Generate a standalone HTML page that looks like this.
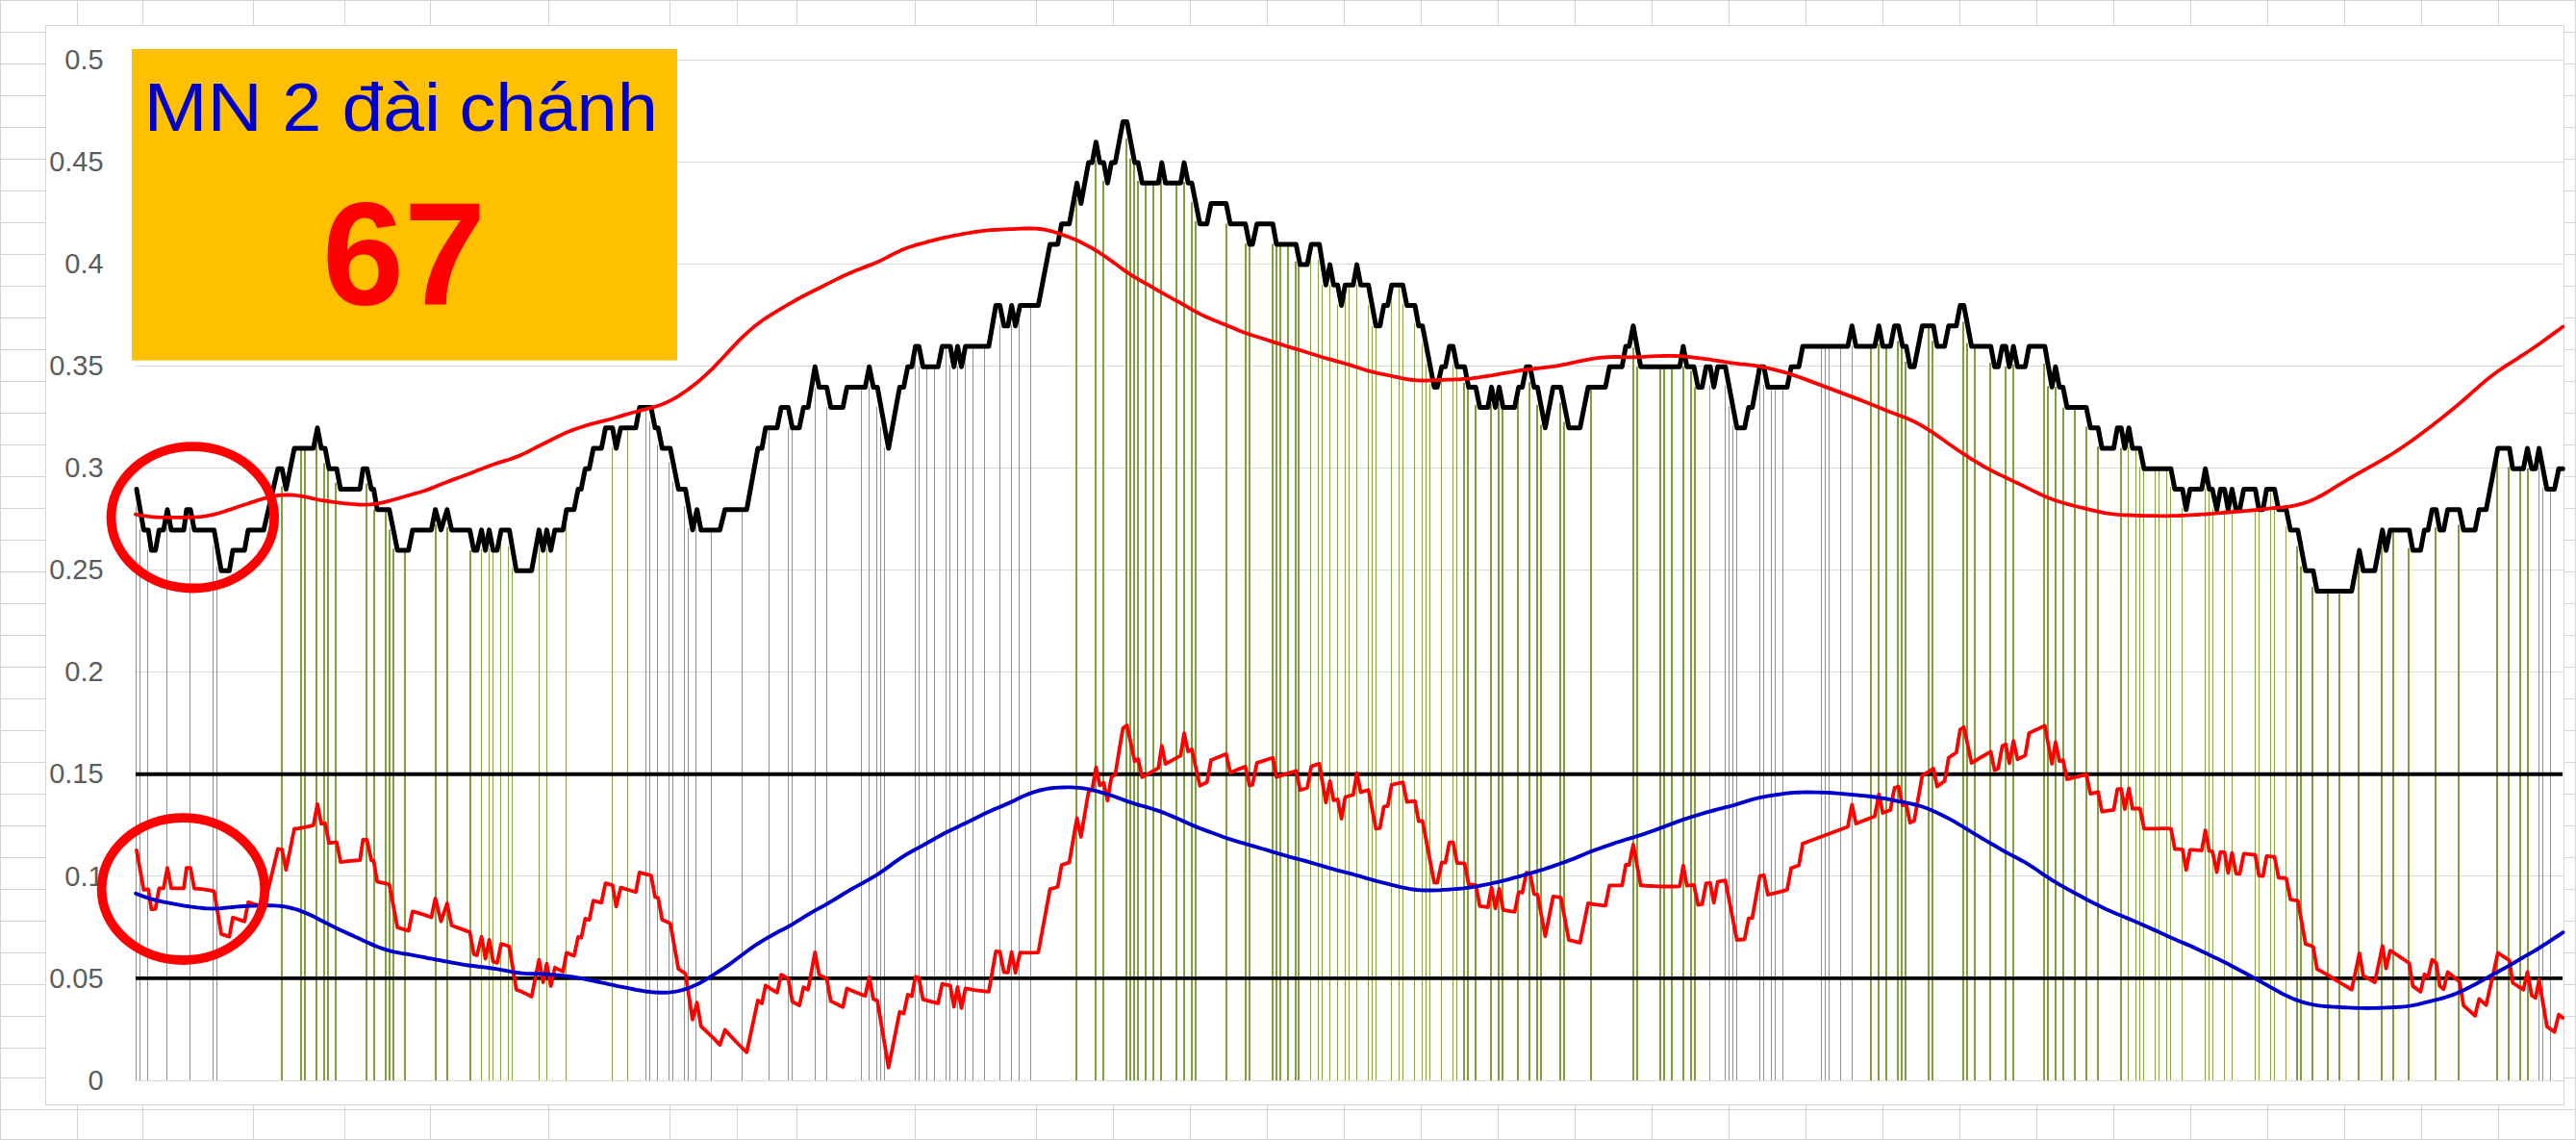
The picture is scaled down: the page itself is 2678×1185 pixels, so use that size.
<!DOCTYPE html>
<html lang="vi"><head><meta charset="utf-8"><title>MN 2 đài chánh 67</title>
<style>html,body{margin:0;padding:0;background:#fff}body{width:2678px;height:1185px;overflow:hidden}svg{display:block}text{font-family:"Liberation Sans",sans-serif}</style></head><body>
<svg width="2678" height="1185" viewBox="0 0 2678 1185">
<rect width="2678" height="1185" fill="#fff"/>
<g stroke="#d4d4d4" stroke-width="1" shape-rendering="crispEdges"><line x1="0.5" y1="0" x2="0.5" y2="1185"/><line x1="80.5" y1="0" x2="80.5" y2="1185"/><line x1="148.5" y1="0" x2="148.5" y2="1185"/><line x1="263.5" y1="0" x2="263.5" y2="1185"/><line x1="358.5" y1="0" x2="358.5" y2="1185"/><line x1="447.5" y1="0" x2="447.5" y2="1185"/><line x1="570.5" y1="0" x2="570.5" y2="1185"/><line x1="696.5" y1="0" x2="696.5" y2="1185"/><line x1="766.5" y1="0" x2="766.5" y2="1185"/><line x1="828.5" y1="0" x2="828.5" y2="1185"/><line x1="951.5" y1="0" x2="951.5" y2="1185"/><line x1="1077.5" y1="0" x2="1077.5" y2="1185"/><line x1="1157.5" y1="0" x2="1157.5" y2="1185"/><line x1="1237.5" y1="0" x2="1237.5" y2="1185"/><line x1="1317.5" y1="0" x2="1317.5" y2="1185"/><line x1="1397.5" y1="0" x2="1397.5" y2="1185"/><line x1="1477.5" y1="0" x2="1477.5" y2="1185"/><line x1="1557.5" y1="0" x2="1557.5" y2="1185"/><line x1="1637.5" y1="0" x2="1637.5" y2="1185"/><line x1="1717.5" y1="0" x2="1717.5" y2="1185"/><line x1="1797.5" y1="0" x2="1797.5" y2="1185"/><line x1="1877.5" y1="0" x2="1877.5" y2="1185"/><line x1="1957.5" y1="0" x2="1957.5" y2="1185"/><line x1="2037.5" y1="0" x2="2037.5" y2="1185"/><line x1="2117.5" y1="0" x2="2117.5" y2="1185"/><line x1="2197.5" y1="0" x2="2197.5" y2="1185"/><line x1="2277.5" y1="0" x2="2277.5" y2="1185"/><line x1="2357.5" y1="0" x2="2357.5" y2="1185"/><line x1="2437.5" y1="0" x2="2437.5" y2="1185"/><line x1="2517.5" y1="0" x2="2517.5" y2="1185"/><line x1="2597.5" y1="0" x2="2597.5" y2="1185"/><line x1="2677.5" y1="0" x2="2677.5" y2="1185"/><line x1="0" y1="0.5" x2="2678" y2="0.5"/><line x1="0" y1="33.5" x2="2678" y2="33.5"/><line x1="0" y1="66.5" x2="2678" y2="66.5"/><line x1="0" y1="99.5" x2="2678" y2="99.5"/><line x1="0" y1="132.5" x2="2678" y2="132.5"/><line x1="0" y1="165.5" x2="2678" y2="165.5"/><line x1="0" y1="198.5" x2="2678" y2="198.5"/><line x1="0" y1="231.5" x2="2678" y2="231.5"/><line x1="0" y1="264.5" x2="2678" y2="264.5"/><line x1="0" y1="297.5" x2="2678" y2="297.5"/><line x1="0" y1="330.5" x2="2678" y2="330.5"/><line x1="0" y1="363.5" x2="2678" y2="363.5"/><line x1="0" y1="396.5" x2="2678" y2="396.5"/><line x1="0" y1="429.5" x2="2678" y2="429.5"/><line x1="0" y1="462.5" x2="2678" y2="462.5"/><line x1="0" y1="495.5" x2="2678" y2="495.5"/><line x1="0" y1="528.5" x2="2678" y2="528.5"/><line x1="0" y1="561.5" x2="2678" y2="561.5"/><line x1="0" y1="594.5" x2="2678" y2="594.5"/><line x1="0" y1="627.5" x2="2678" y2="627.5"/><line x1="0" y1="660.5" x2="2678" y2="660.5"/><line x1="0" y1="693.5" x2="2678" y2="693.5"/><line x1="0" y1="726.5" x2="2678" y2="726.5"/><line x1="0" y1="759.5" x2="2678" y2="759.5"/><line x1="0" y1="792.5" x2="2678" y2="792.5"/><line x1="0" y1="825.5" x2="2678" y2="825.5"/><line x1="0" y1="858.5" x2="2678" y2="858.5"/><line x1="0" y1="891.5" x2="2678" y2="891.5"/><line x1="0" y1="924.5" x2="2678" y2="924.5"/><line x1="0" y1="957.5" x2="2678" y2="957.5"/><line x1="0" y1="990.5" x2="2678" y2="990.5"/><line x1="0" y1="1023.5" x2="2678" y2="1023.5"/><line x1="0" y1="1056.5" x2="2678" y2="1056.5"/><line x1="0" y1="1089.5" x2="2678" y2="1089.5"/><line x1="0" y1="1120.5" x2="2678" y2="1120.5"/><line x1="0" y1="1153.5" x2="2678" y2="1153.5"/><line x1="0" y1="1184.5" x2="2678" y2="1184.5"/></g>
<rect x="47.5" y="26.5" width="2618" height="1122" fill="#fff" stroke="#d6d6d6" stroke-width="1" shape-rendering="crispEdges"/>
<g stroke="#dadada" stroke-width="1" shape-rendering="crispEdges"><line x1="140" y1="1123.5" x2="2665" y2="1123.5"/><line x1="140" y1="1016.5" x2="2665" y2="1016.5"/><line x1="140" y1="910.5" x2="2665" y2="910.5"/><line x1="140" y1="804.5" x2="2665" y2="804.5"/><line x1="140" y1="698.5" x2="2665" y2="698.5"/><line x1="140" y1="592.5" x2="2665" y2="592.5"/><line x1="140" y1="486.5" x2="2665" y2="486.5"/><line x1="140" y1="380.5" x2="2665" y2="380.5"/><line x1="140" y1="274.5" x2="2665" y2="274.5"/><line x1="140" y1="168.5" x2="2665" y2="168.5"/><line x1="140" y1="62.5" x2="2665" y2="62.5"/></g>
<g fill="#829f3e"><rect x="141" y="526.3" width="1" height="596.7" fill="#88a648"/><rect x="145" y="550.5" width="1" height="572.5" fill="#88a648"/><rect x="153" y="571.6" width="1" height="551.4" fill="#88a648"/><rect x="173" y="547.7" width="1" height="575.3" fill="#88a648"/><rect x="197" y="547.2" width="1" height="575.8" fill="#88a648"/><rect x="221" y="566.8" width="1" height="556.2" fill="#88a648"/><rect x="225" y="588.7" width="1" height="534.3" fill="#88a648"/><rect x="292" y="505.6" width="2" height="617.4"/><rect x="312" y="466.0" width="2" height="657.0"/><rect x="316" y="466.0" width="2" height="657.0"/><rect x="328" y="459.7" width="2" height="663.3"/><rect x="336" y="481.4" width="2" height="641.6"/><rect x="340" y="487.2" width="2" height="635.8"/><rect x="348" y="501.6" width="2" height="621.4"/><rect x="380" y="502.7" width="2" height="620.3"/><rect x="388" y="529.7" width="2" height="593.3"/><rect x="400" y="530.5" width="2" height="592.5"/><rect x="404" y="550.6" width="2" height="572.4"/><rect x="408" y="570.3" width="2" height="552.7"/><rect x="420" y="572.1" width="2" height="550.9"/><rect x="452" y="545.0" width="2" height="578.0"/><rect x="464" y="547.8" width="2" height="575.2"/><rect x="488" y="572.1" width="2" height="550.9"/><rect x="500" y="570.9" width="1" height="552.1" fill="#88a648"/><rect x="508" y="570.3" width="1" height="552.7" fill="#88a648"/><rect x="512" y="572.1" width="1" height="550.9" fill="#88a648"/><rect x="520" y="550.9" width="1" height="572.1" fill="#88a648"/><rect x="528" y="567.7" width="1" height="555.3" fill="#88a648"/><rect x="532" y="590.2" width="1" height="532.8" fill="#88a648"/><rect x="560" y="570.4" width="1" height="552.6" fill="#88a648"/><rect x="568" y="570.4" width="1" height="552.6" fill="#88a648"/><rect x="588" y="529.7" width="1" height="593.3" fill="#88a648"/><rect x="636" y="464.7" width="1" height="658.3" fill="#88a648"/><rect x="652" y="444.8" width="1" height="678.2" fill="#88a648"/><rect x="671" y="423.6" width="1" height="699.4" fill="#88a648"/><rect x="675" y="437.5" width="1" height="685.5" fill="#88a648"/><rect x="683" y="462.4" width="1" height="660.6" fill="#88a648"/><rect x="695" y="480.4" width="1" height="642.6" fill="#88a648"/><rect x="699" y="500.6" width="1" height="622.4" fill="#88a648"/><rect x="711" y="526.1" width="1" height="596.9" fill="#88a648"/><rect x="715" y="549.1" width="1" height="573.9" fill="#88a648"/><rect x="723" y="545.6" width="1" height="577.4" fill="#88a648"/><rect x="739" y="550.9" width="1" height="572.1" fill="#88a648"/><rect x="771" y="529.7" width="1" height="593.3" fill="#88a648"/><rect x="799" y="444.8" width="1" height="678.2" fill="#88a648"/><rect x="819" y="444.8" width="1" height="678.2" fill="#88a648"/><rect x="823" y="444.8" width="1" height="678.2" fill="#88a648"/><rect x="847" y="402.4" width="1" height="720.6" fill="#88a648"/><rect x="859" y="423.2" width="1" height="699.8" fill="#88a648"/><rect x="895" y="401.2" width="1" height="721.8" fill="#88a648"/><rect x="903" y="401.9" width="1" height="721.1" fill="#88a648"/><rect x="911" y="422.7" width="1" height="700.3" fill="#88a648"/><rect x="915" y="443.6" width="1" height="679.4" fill="#88a648"/><rect x="919" y="465.0" width="1" height="658.0" fill="#88a648"/><rect x="951" y="360.7" width="1" height="762.3" fill="#88a648"/><rect x="955" y="380.8" width="1" height="742.2" fill="#88a648"/><rect x="963" y="381.2" width="1" height="741.8" fill="#88a648"/><rect x="971" y="380.5" width="1" height="742.5" fill="#88a648"/><rect x="983" y="360.0" width="1" height="763.0" fill="#88a648"/><rect x="987" y="379.6" width="1" height="743.4" fill="#88a648"/><rect x="995" y="380.3" width="1" height="742.7" fill="#88a648"/><rect x="1003" y="360.0" width="1" height="763.0" fill="#88a648"/><rect x="1011" y="360.0" width="1" height="763.0" fill="#88a648"/><rect x="1023" y="360.0" width="1" height="763.0" fill="#88a648"/><rect x="1039" y="337.3" width="1" height="785.7" fill="#88a648"/><rect x="1051" y="337.3" width="1" height="785.7" fill="#88a648"/><rect x="1059" y="317.5" width="1" height="805.5" fill="#88a648"/><rect x="1071" y="317.5" width="1" height="805.5" fill="#88a648"/><rect x="1118" y="207.0" width="2" height="916.0"/><rect x="1138" y="166.6" width="2" height="956.4"/><rect x="1146" y="187.8" width="2" height="935.2"/><rect x="1170" y="144.2" width="2" height="978.8"/><rect x="1174" y="164.9" width="2" height="958.1"/><rect x="1178" y="169.1" width="2" height="953.9"/><rect x="1182" y="187.9" width="2" height="935.1"/><rect x="1190" y="190.3" width="2" height="932.7"/><rect x="1198" y="190.3" width="2" height="932.7"/><rect x="1206" y="185.9" width="2" height="937.1"/><rect x="1222" y="190.3" width="2" height="932.7"/><rect x="1230" y="189.0" width="2" height="934.0"/><rect x="1238" y="210.2" width="2" height="912.8"/><rect x="1242" y="229.8" width="2" height="893.2"/><rect x="1274" y="232.7" width="2" height="890.3"/><rect x="1294" y="253.2" width="2" height="869.8"/><rect x="1298" y="250.3" width="2" height="872.7"/><rect x="1322" y="253.6" width="2" height="869.4"/><rect x="1326" y="253.9" width="2" height="869.1"/><rect x="1330" y="253.9" width="2" height="869.1"/><rect x="1338" y="253.9" width="2" height="869.1"/><rect x="1346" y="271.7" width="2" height="851.3"/><rect x="1349" y="275.1" width="2" height="847.9"/><rect x="1362" y="253.9" width="1" height="869.1" fill="#88a648"/><rect x="1370" y="270.2" width="1" height="852.8" fill="#88a648"/><rect x="1374" y="296.2" width="1" height="826.8" fill="#88a648"/><rect x="1382" y="296.2" width="1" height="826.8" fill="#88a648"/><rect x="1390" y="316.3" width="1" height="806.7" fill="#88a648"/><rect x="1398" y="296.3" width="1" height="826.7" fill="#88a648"/><rect x="1402" y="296.3" width="1" height="826.7" fill="#88a648"/><rect x="1410" y="295.6" width="1" height="827.4" fill="#88a648"/><rect x="1422" y="316.9" width="1" height="806.1" fill="#88a648"/><rect x="1426" y="338.8" width="1" height="784.2" fill="#88a648"/><rect x="1430" y="338.8" width="1" height="784.2" fill="#88a648"/><rect x="1446" y="296.3" width="1" height="826.7" fill="#88a648"/><rect x="1454" y="296.3" width="1" height="826.7" fill="#88a648"/><rect x="1458" y="315.9" width="1" height="807.1" fill="#88a648"/><rect x="1470" y="336.3" width="1" height="786.7" fill="#88a648"/><rect x="1478" y="356.8" width="1" height="766.2" fill="#88a648"/><rect x="1482" y="378.2" width="1" height="744.8" fill="#88a648"/><rect x="1486" y="399.0" width="1" height="724.0" fill="#88a648"/><rect x="1498" y="381.2" width="1" height="741.8" fill="#88a648"/><rect x="1510" y="378.5" width="1" height="744.5" fill="#88a648"/><rect x="1514" y="381.2" width="1" height="741.8" fill="#88a648"/><rect x="1521" y="397.7" width="2" height="725.3"/><rect x="1525" y="402.4" width="2" height="720.6"/><rect x="1533" y="421.0" width="2" height="702.0"/><rect x="1549" y="419.7" width="2" height="703.3"/><rect x="1557" y="419.2" width="2" height="703.8"/><rect x="1561" y="423.6" width="2" height="699.4"/><rect x="1577" y="402.4" width="2" height="720.6"/><rect x="1589" y="397.2" width="2" height="725.8"/><rect x="1597" y="420.8" width="2" height="702.2"/><rect x="1601" y="441.5" width="2" height="681.5"/><rect x="1621" y="418.4" width="2" height="704.6"/><rect x="1625" y="438.5" width="2" height="684.5"/><rect x="1653" y="402.4" width="2" height="720.6"/><rect x="1697" y="361.1" width="2" height="761.9"/><rect x="1701" y="381.2" width="2" height="741.8"/><rect x="1725" y="381.2" width="2" height="741.8"/><rect x="1729" y="381.2" width="2" height="741.8"/><rect x="1737" y="381.2" width="2" height="741.8"/><rect x="1749" y="381.2" width="2" height="741.8"/><rect x="1757" y="385.5" width="2" height="737.5"/><rect x="1761" y="402.4" width="2" height="720.6"/><rect x="1777" y="400.3" width="1" height="722.7" fill="#88a648"/><rect x="1793" y="400.4" width="1" height="722.6" fill="#88a648"/><rect x="1797" y="422.1" width="1" height="700.9" fill="#88a648"/><rect x="1801" y="442.3" width="1" height="680.7" fill="#88a648"/><rect x="1805" y="444.8" width="1" height="678.2" fill="#88a648"/><rect x="1829" y="381.2" width="1" height="741.8" fill="#88a648"/><rect x="1833" y="399.9" width="1" height="723.1" fill="#88a648"/><rect x="1841" y="402.4" width="1" height="720.6" fill="#88a648"/><rect x="1845" y="402.4" width="1" height="720.6" fill="#88a648"/><rect x="1853" y="402.4" width="1" height="720.6" fill="#88a648"/><rect x="1893" y="360.0" width="1" height="763.0" fill="#88a648"/><rect x="1897" y="360.0" width="1" height="763.0" fill="#88a648"/><rect x="1901" y="360.0" width="1" height="763.0" fill="#88a648"/><rect x="1913" y="360.0" width="1" height="763.0" fill="#88a648"/><rect x="1925" y="359.1" width="1" height="763.9" fill="#88a648"/><rect x="1944" y="358.7" width="2" height="764.3"/><rect x="1952" y="357.5" width="2" height="765.5"/><rect x="1960" y="360.0" width="2" height="763.0"/><rect x="1972" y="354.5" width="2" height="768.5"/><rect x="1976" y="360.0" width="2" height="763.0"/><rect x="1980" y="376.0" width="2" height="747.0"/><rect x="2004" y="338.8" width="2" height="784.2"/><rect x="2008" y="354.4" width="2" height="768.6"/><rect x="2040" y="334.6" width="2" height="788.4"/><rect x="2044" y="356.4" width="2" height="766.6"/><rect x="2052" y="360.0" width="2" height="763.0"/><rect x="2068" y="377.0" width="2" height="746.0"/><rect x="2084" y="380.9" width="2" height="742.1"/><rect x="2092" y="378.8" width="2" height="744.2"/><rect x="2124" y="377.9" width="2" height="745.1"/><rect x="2128" y="401.5" width="2" height="721.5"/><rect x="2136" y="402.1" width="2" height="720.9"/><rect x="2144" y="423.6" width="2" height="699.4"/><rect x="2156" y="423.6" width="2" height="699.4"/><rect x="2168" y="443.5" width="2" height="679.5"/><rect x="2180" y="464.1" width="2" height="658.9"/><rect x="2204" y="465.7" width="2" height="657.3"/><rect x="2212" y="462.9" width="1" height="660.1" fill="#88a648"/><rect x="2220" y="466.0" width="1" height="657.0" fill="#88a648"/><rect x="2224" y="485.0" width="1" height="638.0" fill="#88a648"/><rect x="2228" y="487.2" width="1" height="635.8" fill="#88a648"/><rect x="2240" y="487.2" width="1" height="635.8" fill="#88a648"/><rect x="2244" y="487.2" width="1" height="635.8" fill="#88a648"/><rect x="2252" y="487.2" width="1" height="635.8" fill="#88a648"/><rect x="2256" y="506.1" width="1" height="616.9" fill="#88a648"/><rect x="2268" y="527.8" width="1" height="595.2" fill="#88a648"/><rect x="2292" y="507.2" width="1" height="615.8" fill="#88a648"/><rect x="2296" y="510.7" width="1" height="612.3" fill="#88a648"/><rect x="2300" y="528.6" width="1" height="594.4" fill="#88a648"/><rect x="2312" y="529.6" width="1" height="593.4" fill="#88a648"/><rect x="2320" y="528.5" width="1" height="594.5" fill="#88a648"/><rect x="2344" y="529.7" width="1" height="593.3" fill="#88a648"/><rect x="2348" y="529.7" width="1" height="593.3" fill="#88a648"/><rect x="2360" y="508.5" width="1" height="614.5" fill="#88a648"/><rect x="2364" y="527.4" width="1" height="595.6" fill="#88a648"/><rect x="2376" y="547.1" width="1" height="575.9" fill="#88a648"/><rect x="2387" y="567.6" width="2" height="555.4"/><rect x="2391" y="588.8" width="2" height="534.2"/><rect x="2403" y="610.1" width="2" height="512.9"/><rect x="2419" y="614.5" width="2" height="508.5"/><rect x="2431" y="614.5" width="2" height="508.5"/><rect x="2451" y="588.8" width="2" height="534.2"/><rect x="2475" y="568.0" width="2" height="555.0"/><rect x="2487" y="550.9" width="2" height="572.1"/><rect x="2503" y="569.7" width="2" height="553.3"/><rect x="2531" y="548.0" width="2" height="575.0"/><rect x="2555" y="545.6" width="2" height="577.4"/><rect x="2595" y="466.0" width="2" height="657.0"/><rect x="2607" y="485.3" width="2" height="637.7"/><rect x="2619" y="484.5" width="2" height="638.5"/><rect x="2627" y="487.0" width="2" height="636.0"/><rect x="2639" y="485.9" width="1" height="637.1" fill="#88a648"/><rect x="2643" y="506.7" width="1" height="616.3" fill="#88a648"/><rect x="2651" y="508.5" width="1" height="614.5" fill="#88a648"/></g>
<polyline fill="none" stroke="#000" stroke-width="5" stroke-linejoin="round" stroke-linecap="round" points="142.0,508.5 149.4,550.9 154.2,550.9 157.4,572.1 161.6,572.1 165.4,550.9 170.0,550.9 174.0,529.7 178.0,550.9 191.1,550.9 194.0,529.7 198.0,529.7 202.0,550.9 222.6,550.9 230.0,593.3 238.4,593.3 242.0,572.1 254.2,572.1 258.0,550.9 274.2,550.9 288.9,487.2 293.2,487.2 297.4,508.5 306.0,466.0 325.8,466.0 330.0,444.8 334.0,466.0 338.0,466.0 342.0,487.2 350.0,487.2 354.0,508.5 374.2,508.5 377.4,487.2 381.6,487.2 386.0,508.5 388.5,508.5 392.1,529.7 404.7,529.7 413.2,572.1 424.7,572.1 428.9,550.9 439.9,550.9 448.4,550.9 452.6,529.7 458.5,550.9 464.8,529.7 469.5,550.9 488.4,550.9 492.6,572.1 495.8,572.1 500.6,550.9 504.6,572.1 508.6,550.9 512.6,572.1 516.8,572.1 521.0,550.9 529.5,550.9 536.8,593.3 552.6,593.3 560.4,550.9 564.6,572.1 568.4,550.9 572.6,572.1 576.8,550.9 585.3,550.9 589.0,529.7 596.8,529.7 601.0,508.5 604.2,508.5 608.4,487.2 612.6,487.2 616.8,466.0 625.3,466.0 629.5,444.8 636.8,444.8 640.6,466.0 645.3,444.8 661.0,444.8 664.8,423.6 676.8,423.6 681.0,444.8 684.2,444.8 688.4,466.0 696.8,466.0 705.3,508.5 712.6,508.5 720.0,550.9 724.6,529.7 728.8,550.9 748.4,550.9 753.7,529.7 760.0,529.7 776.3,529.7 787.9,466.0 792.1,466.0 795.9,444.8 807.9,444.8 812.1,423.6 819.5,423.6 823.7,444.8 831.0,444.8 835.3,423.6 840.1,423.6 847.3,381.2 851.5,402.4 859.5,402.4 863.7,423.6 876.3,423.6 880.5,402.4 899.5,402.4 903.7,381.2 907.9,402.4 912.1,402.4 923.7,466.0 935.3,402.4 939.5,402.4 943.7,381.2 947.9,381.2 951.7,360.0 955.3,360.0 959.5,381.2 975.3,381.2 979.5,360.0 987.9,360.0 991.7,381.2 995.5,360.0 999.5,381.2 1003.7,360.0 1027.9,360.0 1035.3,317.5 1039.5,317.5 1043.7,338.8 1047.9,338.8 1051.7,317.5 1055.7,338.8 1060.5,317.5 1070.0,317.5 1079.4,317.5 1091.6,253.9 1099.6,253.9 1103.6,232.7 1111.6,232.7 1119.6,190.3 1123.8,211.5 1131.6,169.1 1135.4,169.1 1139.4,147.8 1143.4,169.1 1147.4,169.1 1151.4,190.3 1155.4,169.1 1159.4,169.1 1167.4,126.6 1171.6,126.6 1179.6,169.1 1183.2,169.1 1187.4,190.3 1204.2,190.3 1207.8,169.1 1211.6,190.3 1227.4,190.3 1231.0,169.1 1235.2,190.3 1239.0,190.3 1247.4,232.7 1254.7,232.7 1259.0,211.5 1274.7,211.5 1279.0,232.7 1294.7,232.7 1299.0,253.9 1302.1,253.9 1306.7,232.7 1323.2,232.7 1327.0,253.9 1347.4,253.9 1351.6,275.1 1359.0,275.1 1363.2,253.9 1371.6,253.9 1378.4,296.3 1382.6,275.1 1386.4,296.3 1390.6,296.3 1394.6,317.5 1398.4,296.3 1406.8,296.3 1410.6,275.1 1414.6,296.3 1422.6,296.3 1430.4,338.8 1434.6,338.8 1438.6,317.5 1442.6,317.5 1446.8,296.3 1458.4,296.3 1462.6,317.5 1471.0,317.5 1474.8,338.8 1478.8,338.8 1491.0,402.4 1494.2,402.4 1498.8,381.2 1502.6,381.2 1506.8,360.0 1510.6,360.0 1514.8,381.2 1522.6,381.2 1526.8,402.4 1534.2,402.4 1538.4,423.6 1546.8,423.6 1550.6,402.4 1554.6,423.6 1558.6,402.4 1562.6,423.6 1574.6,423.6 1578.8,402.4 1582.6,402.4 1586.8,381.2 1590.6,381.2 1594.8,402.4 1598.4,402.4 1606.4,444.8 1614.6,402.4 1622.6,402.4 1631.0,444.8 1642.6,444.8 1651.0,402.4 1669.0,402.4 1673.2,381.2 1679.9,381.2 1686.3,381.2 1690.1,360.0 1693.7,360.0 1697.9,338.8 1705.7,381.2 1746.3,381.2 1749.9,360.0 1753.7,381.2 1761.0,381.2 1765.3,402.4 1769.5,402.4 1773.7,381.2 1777.9,381.2 1781.7,402.4 1785.7,381.2 1793.7,381.2 1805.7,444.8 1813.7,444.8 1817.9,423.6 1821.7,423.6 1829.5,381.2 1833.7,381.2 1837.9,402.4 1857.9,402.4 1862.1,381.2 1870.1,381.2 1874.1,360.0 1921.0,360.0 1925.3,338.8 1929.5,360.0 1949.0,360.0 1953.3,338.8 1957.3,360.0 1965.3,360.0 1969.5,338.8 1973.7,338.8 1977.9,360.0 1981.7,360.0 1985.7,381.2 1989.5,381.2 1990.0,381.2 1998.4,338.8 2010.0,338.8 2013.8,360.0 2021.6,360.0 2025.8,338.8 2033.8,338.8 2037.8,317.5 2041.6,317.5 2049.6,360.0 2069.6,360.0 2073.6,381.2 2077.4,381.2 2081.6,360.0 2085.2,360.0 2088.9,381.2 2093.2,360.0 2097.4,381.2 2105.4,381.2 2109.4,360.0 2125.8,360.0 2133.2,402.4 2136.9,381.2 2140.9,402.4 2144.7,402.4 2148.9,423.6 2168.9,423.6 2173.2,444.8 2181.2,444.8 2185.2,466.0 2197.4,466.0 2201.2,444.8 2205.2,444.8 2208.9,466.0 2213.2,444.8 2216.9,466.0 2224.7,466.0 2228.9,487.2 2256.9,487.2 2260.9,508.5 2268.9,508.5 2272.7,529.7 2276.7,508.5 2288.9,508.5 2292.7,487.2 2296.7,508.5 2299.9,508.5 2304.6,529.7 2308.4,508.5 2312.6,508.5 2316.4,529.7 2320.4,508.5 2324.6,529.7 2328.4,529.7 2332.6,508.5 2344.6,508.5 2348.4,529.7 2352.6,529.7 2356.4,508.5 2364.6,508.5 2368.8,529.7 2376.8,529.7 2381.1,550.9 2388.8,550.9 2396.8,593.3 2404.8,593.3 2408.8,614.5 2444.8,614.5 2452.8,572.1 2456.8,593.3 2468.8,593.3 2476.8,550.9 2480.6,572.1 2484.8,550.9 2504.6,550.9 2508.4,572.1 2516.4,572.1 2520.4,550.9 2524.2,550.9 2528.4,529.7 2532.6,529.7 2536.4,550.9 2540.4,550.9 2544.6,529.7 2556.8,529.7 2561.1,550.9 2573.1,550.9 2577.3,529.7 2584.6,529.7 2596.8,466.0 2608.8,466.0 2612.2,487.2 2623.3,487.2 2627.5,466.0 2631.9,487.2 2635.9,487.2 2639.6,466.0 2647.7,508.5 2655.6,508.5 2660.1,487.2 2664.3,487.2"/>
<g stroke="#000" stroke-width="3.9"><line x1="141" y1="804.8" x2="2664" y2="804.8"/><line x1="141" y1="1016.9" x2="2664" y2="1016.9"/></g>
<polyline fill="none" stroke="#f00" stroke-width="3.8" stroke-linejoin="round" stroke-linecap="round" points="140.9,534.7 144.9,535.5 148.9,536.1 152.9,536.7 156.9,537.2 160.9,537.5 164.9,537.7 168.9,537.8 172.9,537.9 176.9,537.9 180.9,537.9 184.9,537.9 188.9,537.9 192.9,537.9 196.9,537.8 200.9,537.6 204.9,537.4 208.9,537.1 212.9,536.6 216.9,535.9 220.9,535.1 224.9,534.1 228.9,533.0 232.9,531.8 236.9,530.4 240.9,529.1 244.9,527.7 248.9,526.3 252.9,525.0 256.9,523.7 260.9,522.4 264.9,521.1 268.9,519.8 272.9,518.6 276.9,517.4 280.9,516.4 284.9,515.6 288.9,515.0 292.9,514.6 296.9,514.5 300.9,514.5 304.9,514.7 308.9,515.1 312.9,515.7 316.9,516.4 320.9,517.2 324.9,518.1 328.9,519.0 332.9,519.8 336.9,520.4 340.9,521.0 344.9,521.6 348.9,522.1 352.9,522.6 356.9,523.1 360.9,523.5 364.9,523.9 368.9,524.2 372.9,524.5 376.9,524.6 380.9,524.6 384.9,524.4 388.9,524.0 392.9,523.3 396.9,522.6 400.9,521.6 404.9,520.6 408.9,519.5 412.9,518.4 416.9,517.2 420.9,516.0 424.9,514.9 428.9,513.7 432.9,512.6 436.9,511.5 440.9,510.3 444.9,508.9 448.9,507.4 452.9,505.8 456.9,504.1 460.9,502.5 464.9,500.9 468.9,499.4 472.9,497.9 476.9,496.5 480.9,495.0 484.9,493.5 488.9,492.0 492.9,490.4 496.9,488.8 500.9,487.3 504.9,485.7 508.9,484.2 513.0,482.8 517.0,481.4 521.0,480.1 525.0,478.9 529.0,477.7 533.0,476.4 537.0,474.9 541.0,473.3 545.0,471.4 549.0,469.5 553.0,467.4 557.0,465.3 561.0,463.2 565.0,461.2 569.0,459.2 573.0,457.2 577.0,455.3 581.0,453.3 585.0,451.4 589.0,449.6 593.0,447.9 597.0,446.4 601.0,445.0 605.0,443.7 609.0,442.4 613.0,441.2 617.0,440.1 621.0,439.1 625.0,438.1 629.0,437.1 633.0,436.1 637.0,435.0 641.0,433.8 645.0,432.6 649.0,431.4 653.0,430.2 657.0,429.0 661.0,428.0 665.0,426.9 669.0,425.9 673.0,424.9 677.0,423.9 681.0,422.7 685.0,421.5 689.0,420.0 693.0,418.3 697.0,416.4 701.0,414.2 705.0,411.8 709.0,409.2 713.0,406.5 717.0,403.6 721.0,400.6 725.0,397.4 729.0,394.0 733.0,390.4 737.0,386.7 741.0,382.8 745.0,378.7 749.0,374.5 753.0,370.2 757.0,365.9 761.0,361.6 765.0,357.3 769.0,353.2 773.0,349.3 777.0,345.6 781.0,342.1 785.0,338.8 789.0,335.7 793.0,332.8 797.0,330.1 801.0,327.5 805.0,325.1 809.0,322.7 813.0,320.3 817.0,317.9 821.0,315.6 825.0,313.3 829.0,311.0 833.0,308.8 837.0,306.8 841.0,304.8 845.0,302.8 849.0,300.7 853.0,298.7 857.0,296.7 861.0,294.6 865.0,292.6 869.0,290.6 873.0,288.7 877.0,286.8 881.0,285.0 885.0,283.2 889.0,281.5 893.0,279.9 897.0,278.4 901.0,276.9 905.0,275.4 909.0,273.8 913.0,272.0 917.0,270.1 921.0,268.1 925.0,266.0 929.0,263.9 933.0,262.0 937.0,260.1 941.0,258.4 945.0,257.0 949.0,255.7 953.0,254.4 957.0,253.3 961.0,252.3 965.0,251.2 969.0,250.2 973.0,249.1 977.0,248.1 981.0,247.2 985.0,246.3 989.0,245.5 993.0,244.7 997.0,244.0 1001.0,243.2 1005.0,242.5 1009.0,241.8 1013.0,241.2 1017.0,240.6 1021.0,240.1 1025.0,239.6 1029.0,239.2 1033.0,239.0 1037.0,238.8 1041.0,238.6 1045.0,238.4 1049.0,238.2 1053.0,238.1 1057.0,237.9 1061.0,237.7 1065.0,237.5 1069.0,237.4 1073.0,237.5 1077.0,237.6 1081.0,238.0 1085.0,238.5 1089.0,239.3 1093.0,240.3 1097.0,241.5 1101.0,242.8 1105.0,244.2 1109.0,245.6 1113.0,247.2 1117.0,248.8 1121.0,250.6 1125.0,252.5 1129.0,254.6 1133.0,256.7 1137.0,259.0 1141.0,261.4 1145.0,264.0 1149.0,266.7 1153.0,269.5 1157.0,272.4 1161.0,275.3 1165.0,278.2 1169.0,281.1 1173.0,283.9 1177.0,286.5 1181.0,288.9 1185.0,291.3 1189.0,293.5 1193.0,295.7 1197.0,298.0 1201.0,300.3 1205.0,302.6 1209.0,304.9 1213.0,307.2 1217.0,309.4 1221.0,311.6 1225.0,313.7 1229.0,316.0 1233.0,318.2 1237.0,320.6 1241.0,322.8 1245.0,325.0 1249.0,327.1 1253.0,329.0 1257.0,330.8 1261.0,332.5 1265.0,334.1 1269.0,335.7 1273.0,337.3 1277.0,339.0 1281.0,340.6 1285.0,342.3 1289.0,344.0 1293.0,345.5 1297.0,346.9 1301.0,348.2 1305.0,349.5 1309.0,350.7 1313.0,352.0 1317.0,353.3 1321.0,354.6 1325.0,355.9 1329.0,357.1 1333.0,358.4 1337.0,359.7 1341.0,360.9 1345.0,362.1 1349.0,363.3 1353.0,364.5 1357.0,365.7 1361.0,367.0 1365.0,368.2 1369.0,369.5 1373.0,370.8 1377.0,372.0 1381.0,373.1 1385.0,374.2 1389.0,375.3 1393.0,376.4 1397.0,377.5 1401.0,378.7 1405.0,379.9 1409.0,381.2 1413.0,382.5 1417.0,383.8 1421.0,385.1 1425.0,386.2 1429.0,387.2 1433.0,388.1 1437.0,388.9 1441.0,389.7 1445.0,390.5 1449.0,391.4 1453.0,392.2 1457.0,393.1 1461.0,393.9 1465.0,394.5 1469.0,395.0 1473.0,395.4 1477.0,395.5 1481.0,395.6 1485.0,395.5 1489.0,395.4 1493.0,395.2 1497.0,395.0 1501.0,394.9 1505.0,394.7 1509.0,394.6 1513.0,394.4 1517.0,394.3 1521.0,394.0 1525.0,393.7 1529.0,393.3 1533.0,392.8 1537.0,392.3 1541.0,391.7 1545.0,391.1 1549.0,390.5 1553.0,389.8 1557.0,389.1 1561.0,388.4 1565.0,387.7 1569.0,387.0 1573.0,386.3 1577.0,385.6 1581.0,385.0 1585.0,384.5 1589.0,383.9 1593.0,383.5 1597.0,383.0 1601.0,382.6 1605.0,382.1 1609.0,381.6 1613.0,381.1 1617.0,380.6 1621.0,379.9 1625.0,379.1 1629.0,378.3 1633.0,377.4 1637.0,376.6 1641.0,375.7 1645.0,374.9 1649.0,374.1 1653.0,373.4 1657.0,372.7 1661.0,372.2 1665.0,371.7 1669.0,371.3 1673.0,371.1 1677.0,371.0 1681.0,371.0 1685.0,371.1 1689.0,371.2 1693.0,371.3 1697.0,371.3 1701.0,371.2 1705.0,371.1 1709.0,370.9 1713.0,370.6 1717.0,370.4 1721.0,370.2 1725.0,370.1 1729.0,370.0 1733.0,369.9 1737.0,369.9 1741.0,370.0 1745.0,370.2 1749.0,370.4 1753.0,370.8 1757.0,371.2 1761.0,371.7 1765.0,372.2 1769.0,372.7 1773.0,373.2 1777.0,373.7 1781.0,374.3 1785.0,374.9 1789.0,375.5 1793.0,376.2 1797.0,376.8 1801.0,377.3 1805.0,377.8 1809.0,378.3 1813.0,378.7 1817.0,379.1 1821.0,379.6 1825.0,380.2 1829.0,380.9 1833.0,381.7 1837.0,382.5 1841.0,383.3 1845.0,384.3 1849.0,385.3 1853.0,386.4 1857.0,387.5 1861.0,388.8 1865.0,390.1 1869.0,391.5 1873.0,392.9 1877.0,394.4 1881.0,395.9 1885.0,397.4 1889.0,398.9 1893.0,400.4 1897.0,401.9 1901.0,403.4 1905.0,404.9 1909.0,406.4 1913.0,407.9 1917.0,409.4 1921.0,410.9 1925.0,412.4 1929.0,413.9 1933.0,415.4 1937.0,417.0 1941.0,418.6 1945.0,420.2 1949.0,421.8 1953.0,423.4 1957.0,425.1 1961.0,426.7 1965.0,428.2 1969.0,429.7 1973.0,431.2 1977.0,432.8 1981.0,434.3 1985.0,436.0 1989.0,437.8 1993.0,439.8 1997.0,442.0 2001.0,444.3 2005.0,446.8 2009.0,449.4 2013.0,452.1 2017.0,455.0 2021.0,457.8 2025.0,460.7 2029.0,463.5 2033.0,466.3 2037.0,469.0 2041.0,471.6 2045.0,474.2 2048.9,476.8 2052.9,479.2 2056.9,481.7 2060.9,484.0 2064.9,486.3 2068.9,488.4 2072.9,490.5 2076.9,492.5 2080.9,494.4 2084.9,496.3 2088.9,498.2 2092.9,500.1 2096.9,502.0 2100.9,503.9 2104.9,505.9 2108.9,507.9 2112.9,509.9 2116.9,511.8 2120.9,513.7 2124.9,515.5 2128.9,517.2 2132.9,518.7 2136.9,520.2 2140.9,521.5 2144.9,522.7 2148.9,523.9 2152.9,524.9 2156.9,526.0 2160.9,527.0 2164.9,527.9 2168.9,528.9 2172.9,529.9 2176.9,530.8 2180.9,531.7 2184.9,532.6 2188.9,533.3 2192.9,533.9 2196.9,534.4 2200.9,534.8 2204.9,535.1 2208.9,535.3 2212.9,535.5 2216.9,535.7 2220.9,535.9 2224.9,536.0 2228.9,536.1 2232.9,536.2 2236.9,536.2 2240.9,536.2 2244.9,536.3 2248.9,536.3 2252.9,536.3 2256.9,536.2 2260.9,536.1 2264.9,536.0 2268.9,535.8 2272.9,535.6 2276.9,535.4 2280.9,535.2 2284.9,535.0 2288.9,534.7 2292.9,534.5 2296.9,534.1 2300.9,533.8 2304.9,533.4 2308.9,533.1 2312.9,532.8 2316.9,532.5 2320.9,532.2 2324.9,531.9 2328.9,531.6 2332.9,531.2 2336.9,530.9 2340.9,530.5 2344.9,530.1 2348.9,529.7 2352.9,529.2 2356.9,528.8 2360.9,528.4 2364.9,528.0 2368.9,527.7 2372.9,527.3 2376.9,526.8 2380.9,526.3 2384.9,525.6 2388.9,524.7 2392.9,523.7 2396.9,522.4 2400.9,521.0 2404.9,519.3 2408.9,517.4 2412.9,515.3 2416.9,513.0 2420.9,510.7 2424.9,508.2 2428.9,505.7 2432.9,503.2 2436.9,500.8 2440.9,498.4 2444.9,496.0 2448.9,493.7 2452.9,491.4 2456.9,489.1 2460.9,486.9 2464.9,484.7 2468.9,482.5 2472.9,480.2 2476.9,477.9 2480.9,475.5 2484.9,473.0 2488.9,470.5 2492.9,467.9 2496.9,465.2 2500.9,462.5 2504.9,459.8 2508.9,456.9 2512.9,454.0 2516.9,451.0 2520.9,448.0 2524.9,445.0 2528.9,441.9 2532.9,438.8 2536.9,435.7 2540.9,432.5 2544.9,429.3 2548.9,426.1 2552.9,422.8 2556.9,419.4 2560.9,416.0 2564.9,412.5 2568.9,408.9 2572.9,405.4 2576.9,401.8 2580.9,398.4 2584.9,395.0 2588.9,391.8 2592.9,388.7 2596.9,385.8 2600.9,383.1 2604.9,380.4 2608.9,377.9 2612.9,375.4 2616.9,372.8 2620.9,370.2 2624.9,367.6 2628.9,365.0 2632.9,362.3 2636.9,359.5 2640.9,356.7 2644.9,353.8 2648.9,350.9 2652.9,347.9 2656.9,345.1 2660.9,342.2 2664.3,339.5"/>
<polyline fill="none" stroke="#f00" stroke-width="3.8" stroke-linejoin="round" stroke-linecap="round" points="142.0,883.8 146.0,906.1 149.4,925.0 150.0,924.9 154.0,924.3 154.2,924.3 157.4,945.2 158.0,945.1 161.6,944.8 162.0,942.6 165.4,923.4 166.0,923.4 170.0,923.3 170.0,923.3 174.0,902.3 174.0,902.1 178.0,923.0 178.0,923.3 181.9,923.3 185.9,923.3 189.9,923.3 191.1,923.3 193.9,902.5 194.0,902.1 197.9,902.2 198.0,902.2 201.9,923.2 202.0,923.6 205.9,923.8 209.9,924.2 213.9,924.8 217.9,925.4 221.9,926.3 222.6,926.5 225.9,946.1 229.9,970.3 230.0,970.9 233.9,972.1 237.9,973.5 238.4,973.6 241.9,954.3 242.0,953.7 245.9,955.0 249.9,956.4 253.9,957.7 254.2,957.8 257.9,938.5 258.0,937.8 261.9,939.0 265.9,940.3 269.9,941.6 273.8,942.8 274.2,942.9 277.8,928.3 281.8,912.0 285.8,895.5 288.9,882.5 289.8,882.6 293.2,882.9 293.8,886.2 297.4,904.2 297.8,902.0 301.8,882.4 305.8,862.5 306.0,861.5 309.8,861.1 313.8,860.5 317.8,859.7 321.8,858.9 325.8,858.0 325.8,858.0 329.8,837.1 330.0,835.9 333.8,855.2 334.0,856.4 337.8,855.8 338.0,855.7 341.8,875.1 342.0,876.3 345.8,875.8 349.8,875.3 350.0,875.3 353.8,894.7 354.0,896.0 357.8,895.6 361.7,895.1 365.7,894.8 369.7,894.5 373.7,894.2 374.2,894.2 377.4,872.9 377.7,872.9 381.6,873.0 381.7,873.6 385.7,893.0 386.0,894.5 388.5,894.7 389.7,901.9 392.1,916.5 393.7,916.8 397.7,917.6 401.7,918.5 404.7,919.3 405.7,924.3 409.7,945.6 413.2,964.1 413.7,964.2 417.7,965.4 421.7,966.6 424.7,967.5 425.7,963.0 428.9,947.4 429.7,947.6 433.7,948.7 437.6,949.8 439.9,950.5 441.6,951.1 445.6,952.5 448.4,953.6 449.6,947.9 452.6,934.0 453.6,938.0 457.6,954.1 458.5,957.7 461.6,948.6 464.8,939.0 465.6,942.9 469.5,961.9 469.6,962.0 473.6,963.5 477.6,964.9 481.6,966.4 485.6,967.9 488.4,969.0 489.6,975.3 492.6,991.8 493.6,992.2 495.8,993.1 497.6,985.9 500.6,973.8 501.6,979.2 504.6,996.5 505.6,991.9 508.6,976.8 509.6,982.1 512.6,999.5 513.6,999.8 516.8,1000.9 517.6,997.5 521.0,981.1 521.5,981.2 525.5,982.5 529.5,983.7 529.5,984.1 533.5,1008.4 536.8,1028.6 537.5,1028.9 541.5,1030.6 545.5,1032.4 549.5,1034.4 552.6,1036.0 553.5,1031.7 557.5,1012.0 560.4,997.7 561.5,1003.7 564.6,1021.0 565.5,1016.6 568.4,1001.7 569.5,1007.7 572.6,1025.0 573.5,1021.1 576.8,1005.8 577.5,1006.2 581.5,1008.1 585.3,1009.9 585.5,1008.8 589.0,990.4 589.5,990.6 593.5,992.2 596.8,993.5 597.5,990.6 601.0,973.8 601.5,973.9 604.2,974.8 605.5,969.0 608.4,954.9 609.5,955.2 612.6,956.2 613.5,952.3 616.8,936.2 617.4,936.3 621.4,937.4 625.3,938.3 625.4,937.5 629.4,918.4 629.5,918.2 633.4,919.2 636.8,920.1 637.4,923.5 640.6,942.4 641.4,939.1 645.3,922.6 645.4,922.6 649.4,923.9 653.4,925.0 657.4,926.2 661.0,927.2 661.4,925.4 664.8,906.9 665.4,907.1 669.4,908.1 673.4,909.1 676.8,910.0 677.4,912.8 681.0,932.4 681.4,932.5 684.2,933.4 685.4,939.6 688.4,956.1 689.4,956.5 693.4,958.2 696.8,959.9 697.4,962.7 701.3,985.0 705.3,1007.1 705.3,1007.2 709.3,1009.8 712.6,1012.0 713.3,1016.5 717.3,1042.4 720.0,1059.8 721.3,1054.8 724.6,1042.3 725.3,1046.3 728.8,1067.0 729.3,1067.5 733.3,1071.0 737.3,1074.8 741.3,1078.7 745.3,1082.8 748.4,1086.1 749.3,1083.5 753.3,1071.7 753.7,1070.5 757.3,1074.4 760.0,1077.4 761.3,1078.7 765.3,1083.0 769.3,1087.0 773.3,1090.9 776.3,1093.8 777.2,1089.5 781.2,1071.0 785.2,1052.4 787.9,1039.8 789.2,1040.8 792.1,1042.9 793.2,1037.4 795.9,1024.3 797.2,1025.2 801.2,1027.8 805.2,1030.2 807.9,1031.8 809.2,1025.9 812.1,1013.1 813.2,1013.7 817.2,1016.1 819.5,1017.4 821.2,1027.2 823.7,1041.1 825.2,1042.0 829.2,1044.2 831.0,1045.2 833.2,1035.6 835.3,1026.2 837.2,1027.2 840.1,1028.7 841.2,1022.9 845.2,1001.2 847.3,989.9 849.2,1000.5 851.5,1013.2 853.2,1014.1 857.2,1016.1 859.5,1017.3 861.1,1026.6 863.7,1040.6 865.1,1041.4 869.1,1043.3 873.1,1045.3 876.3,1046.8 877.1,1043.0 880.5,1027.5 881.1,1027.8 885.1,1029.6 889.1,1031.2 893.1,1032.8 897.1,1034.4 899.5,1035.2 901.1,1027.6 903.7,1015.6 905.1,1023.3 907.9,1038.5 909.1,1039.0 912.1,1040.3 913.1,1046.1 917.1,1070.0 921.1,1094.0 923.7,1109.6 925.1,1102.7 929.1,1082.8 933.1,1062.8 935.3,1051.8 937.1,1052.6 939.5,1053.6 941.1,1046.3 943.7,1034.0 945.1,1034.5 947.9,1035.5 949.0,1029.3 951.7,1015.4 953.0,1015.8 955.3,1016.4 957.0,1025.9 959.5,1038.8 961.0,1039.2 965.0,1040.3 969.0,1041.3 973.0,1042.3 975.3,1042.9 977.0,1034.5 979.5,1022.7 981.0,1023.1 985.0,1023.9 987.9,1024.5 989.0,1031.0 991.7,1046.5 993.0,1039.3 995.5,1026.0 997.0,1034.3 999.5,1047.9 1001.0,1040.6 1003.7,1027.5 1005.0,1027.7 1009.0,1028.4 1013.0,1029.1 1017.0,1029.7 1021.0,1030.2 1025.0,1030.7 1027.9,1030.9 1029.0,1024.8 1033.0,1002.1 1035.3,989.0 1037.0,989.1 1039.5,989.2 1040.9,996.6 1043.7,1010.6 1044.9,1010.6 1047.9,1010.8 1048.9,1005.0 1051.7,989.7 1052.9,996.4 1055.7,1011.1 1056.9,1005.7 1060.5,990.1 1060.9,990.1 1064.9,990.3 1068.9,990.4 1070.0,990.4 1072.9,990.4 1076.9,990.2 1079.4,990.0 1080.9,981.9 1084.9,960.5 1088.9,938.9 1091.6,924.2 1092.9,923.9 1096.9,922.7 1099.6,921.8 1100.9,914.6 1103.6,899.3 1104.9,898.8 1108.9,897.4 1111.6,896.4 1112.9,889.1 1116.8,866.2 1119.6,850.5 1120.8,856.4 1123.8,869.8 1124.8,863.6 1128.8,839.8 1131.6,823.4 1132.8,822.7 1135.4,821.2 1136.8,812.7 1139.4,797.7 1140.8,804.5 1143.4,816.4 1144.8,815.4 1147.4,813.7 1148.8,820.4 1151.4,832.1 1152.8,823.5 1155.4,808.1 1156.8,807.0 1159.4,805.2 1160.8,796.5 1164.8,772.4 1167.4,757.0 1168.8,755.9 1171.6,754.0 1172.8,759.6 1176.8,778.1 1179.6,791.2 1180.8,790.5 1183.2,789.1 1184.8,796.3 1187.4,807.9 1188.8,807.1 1192.8,804.9 1196.8,802.7 1200.8,800.4 1204.2,798.4 1204.8,794.9 1207.8,775.1 1208.8,779.9 1211.6,794.1 1212.7,793.5 1216.7,791.3 1220.7,789.1 1224.7,786.9 1227.4,785.5 1228.7,776.7 1231.0,762.2 1232.7,770.1 1235.2,781.0 1236.7,780.1 1239.0,778.9 1240.7,786.7 1244.7,804.6 1247.4,816.7 1248.7,816.0 1252.7,814.1 1254.7,813.2 1256.7,802.5 1259.0,790.1 1260.7,789.4 1264.7,787.8 1268.7,786.2 1272.7,784.6 1274.7,783.7 1276.7,792.6 1279.0,803.2 1280.7,802.5 1284.7,800.8 1288.7,799.1 1292.7,797.6 1294.7,796.8 1296.6,805.7 1299.0,816.6 1300.6,816.1 1302.1,815.6 1304.6,803.3 1306.7,792.9 1308.6,792.4 1312.6,791.1 1316.6,789.8 1320.6,788.5 1323.2,787.7 1324.6,795.3 1327.0,807.7 1328.6,807.2 1332.6,805.9 1336.6,804.6 1340.6,803.4 1344.6,802.2 1347.4,801.3 1348.6,807.1 1351.6,821.3 1352.6,821.0 1356.6,819.8 1359.0,819.0 1360.6,810.4 1363.2,796.5 1364.6,796.1 1368.6,794.8 1371.6,793.9 1372.5,799.6 1376.5,823.1 1378.4,834.2 1380.5,822.9 1382.6,811.8 1384.5,822.0 1386.4,832.0 1388.5,831.4 1390.6,830.9 1392.5,840.4 1394.6,851.0 1396.5,839.9 1398.4,828.7 1400.5,828.0 1404.5,826.8 1406.8,826.1 1408.5,816.2 1410.6,803.6 1412.5,813.0 1414.6,823.5 1416.5,822.9 1420.5,821.7 1422.6,821.1 1424.5,830.7 1428.5,851.5 1430.4,861.5 1432.5,861.1 1434.6,860.6 1436.5,850.4 1438.6,838.6 1440.5,838.2 1442.6,837.8 1444.5,828.1 1446.8,815.7 1448.5,815.4 1452.5,814.5 1456.5,813.6 1458.4,813.2 1460.5,823.1 1462.6,833.7 1464.4,833.4 1468.4,832.9 1471.0,832.6 1472.4,840.2 1474.8,853.6 1476.4,853.5 1478.8,853.5 1480.4,861.7 1484.4,882.6 1488.4,903.6 1491.0,917.4 1492.4,917.4 1494.2,917.5 1496.4,907.5 1498.8,896.5 1500.4,896.6 1502.6,896.7 1504.4,887.8 1506.8,875.6 1508.4,875.6 1510.6,875.7 1512.4,884.7 1514.8,897.1 1516.4,897.2 1520.4,897.4 1522.6,897.6 1524.4,906.5 1526.8,919.2 1528.4,919.3 1532.4,919.8 1534.2,920.0 1536.4,931.1 1538.4,941.8 1540.4,942.1 1544.3,942.7 1546.8,943.1 1548.3,934.9 1550.6,922.5 1552.3,931.9 1554.6,944.4 1556.3,935.6 1558.6,923.9 1560.3,933.2 1562.6,945.8 1564.3,946.1 1568.3,946.8 1572.3,947.5 1574.6,947.9 1576.3,939.7 1578.8,927.3 1580.3,927.5 1582.6,927.9 1584.3,919.7 1586.8,907.2 1588.3,907.4 1590.6,907.7 1592.3,916.3 1594.8,929.4 1596.3,929.6 1598.4,929.8 1600.3,939.9 1604.3,961.5 1606.4,973.1 1608.3,963.8 1612.3,943.6 1614.6,931.8 1616.3,932.0 1620.3,932.7 1622.6,933.1 1624.3,941.6 1628.2,962.5 1631.0,977.2 1632.2,977.5 1636.2,978.4 1640.2,979.3 1642.6,979.8 1644.2,972.0 1648.2,952.6 1651.0,939.0 1652.2,939.2 1656.2,939.8 1660.2,940.4 1664.2,940.9 1668.2,941.3 1669.0,941.3 1672.2,925.1 1673.2,920.4 1676.2,920.4 1679.9,920.4 1680.2,920.4 1684.2,920.4 1686.3,920.3 1688.2,909.9 1690.1,899.0 1692.2,899.0 1693.7,899.0 1696.2,886.4 1697.9,877.8 1700.2,890.2 1704.2,912.1 1705.7,920.4 1708.2,920.5 1712.2,920.8 1716.2,921.0 1720.1,921.2 1724.1,921.4 1728.1,921.5 1732.1,921.5 1736.1,921.5 1740.1,921.5 1744.1,921.3 1746.3,921.2 1748.1,910.5 1749.9,899.7 1752.1,912.0 1753.7,920.6 1756.1,920.4 1760.1,919.9 1761.0,919.8 1764.1,934.7 1765.3,940.5 1768.1,940.1 1769.5,939.9 1772.1,926.4 1773.7,918.2 1776.1,917.9 1777.9,917.6 1780.1,929.5 1781.7,938.3 1784.1,925.2 1785.7,916.5 1788.1,916.1 1792.1,915.4 1793.7,915.2 1796.0,927.4 1800.0,948.0 1804.0,968.7 1805.7,977.2 1808.0,976.9 1812.0,976.5 1813.7,976.3 1816.0,964.2 1817.9,954.6 1820.0,954.4 1821.7,954.1 1824.0,941.0 1828.0,918.6 1829.5,910.5 1832.0,910.0 1833.7,909.6 1836.0,920.9 1837.9,930.0 1840.0,929.5 1844.0,928.6 1848.0,927.6 1852.0,926.6 1856.0,925.4 1857.9,924.9 1860.0,913.7 1862.1,902.3 1864.0,901.7 1868.0,900.3 1870.1,899.5 1872.0,889.1 1874.1,876.9 1876.0,876.2 1880.0,874.7 1884.0,873.2 1888.0,871.7 1891.9,870.2 1895.9,868.8 1899.9,867.2 1903.9,865.8 1907.9,864.2 1911.9,862.8 1915.9,861.3 1919.9,859.8 1921.0,859.3 1923.9,843.9 1925.3,836.5 1927.9,848.8 1929.5,856.1 1931.9,855.2 1935.9,853.6 1939.9,852.1 1943.9,850.5 1947.9,848.9 1949.0,848.4 1951.9,833.0 1953.3,825.5 1955.9,838.2 1957.3,845.0 1959.9,844.0 1963.9,842.5 1965.3,841.9 1967.8,827.9 1969.5,819.1 1971.8,818.2 1973.7,817.5 1975.8,827.6 1977.9,837.1 1979.8,836.4 1981.7,835.6 1983.8,846.1 1985.7,855.1 1987.8,854.1 1989.5,853.4 1990.0,853.1 1991.8,843.0 1995.8,820.8 1998.4,806.2 1999.8,805.4 2003.8,803.0 2007.8,800.4 2010.0,798.9 2011.8,807.8 2013.8,817.5 2015.8,816.1 2019.8,813.2 2021.6,812.0 2023.8,799.2 2025.8,787.7 2027.8,786.3 2031.8,783.5 2033.8,782.2 2035.8,770.3 2037.8,758.3 2039.8,757.0 2041.6,755.8 2043.8,765.9 2047.8,784.6 2049.6,793.1 2051.8,791.8 2055.8,789.3 2059.7,787.0 2063.7,784.7 2067.7,782.5 2069.6,781.5 2071.7,791.8 2073.6,800.6 2075.7,799.5 2077.4,798.7 2079.7,785.8 2081.6,775.5 2083.7,774.5 2085.2,773.8 2087.7,786.9 2088.9,793.3 2091.7,778.1 2093.2,770.1 2095.7,781.7 2097.4,789.3 2099.7,788.1 2103.7,786.2 2105.4,785.4 2107.7,771.9 2109.4,762.1 2111.7,761.0 2115.7,759.0 2119.7,757.2 2123.7,755.3 2125.8,754.4 2127.7,764.4 2131.7,785.8 2133.2,793.9 2135.7,779.0 2136.9,771.3 2139.7,784.7 2140.9,791.2 2143.7,790.4 2144.7,790.0 2147.6,803.8 2148.9,810.0 2151.6,809.3 2155.6,808.3 2159.6,807.3 2163.6,806.3 2167.6,805.3 2168.9,805.0 2171.6,817.7 2173.2,825.1 2175.6,824.6 2179.6,823.7 2181.2,823.3 2183.6,835.8 2185.2,843.7 2187.6,843.3 2191.6,842.6 2195.6,842.1 2197.4,841.9 2199.6,829.3 2201.2,820.3 2203.6,820.1 2205.2,820.0 2207.6,833.3 2208.9,841.0 2211.6,827.6 2213.2,819.5 2215.6,832.9 2216.9,840.6 2219.6,840.5 2223.6,840.3 2224.7,840.3 2227.6,854.4 2228.9,861.4 2231.5,861.4 2235.5,861.3 2239.5,861.3 2243.5,861.3 2247.5,861.2 2251.5,861.2 2255.5,861.3 2256.9,861.3 2259.5,874.9 2260.9,882.6 2263.5,882.7 2267.5,882.9 2268.9,882.9 2271.5,897.3 2272.7,904.3 2275.5,889.9 2276.7,883.3 2279.5,883.4 2283.5,883.7 2287.5,883.9 2288.9,884.0 2291.5,870.1 2292.7,863.0 2295.5,877.8 2296.7,884.6 2299.5,884.8 2299.9,884.9 2303.5,901.1 2304.6,906.5 2307.4,890.9 2308.4,885.6 2311.4,885.8 2312.6,885.9 2315.4,901.9 2316.4,907.4 2319.4,891.6 2320.4,886.5 2323.4,901.9 2324.6,908.0 2327.4,908.3 2328.4,908.3 2331.4,893.5 2332.6,887.5 2335.4,887.7 2339.4,888.1 2343.4,888.5 2344.6,888.6 2347.4,904.5 2348.4,910.2 2351.4,910.5 2352.6,910.7 2355.4,895.5 2356.4,889.9 2359.4,890.2 2363.4,890.6 2364.6,890.7 2367.4,904.8 2368.8,912.3 2371.4,912.5 2375.4,912.9 2376.8,913.1 2379.4,926.2 2381.1,934.9 2383.4,935.3 2387.4,936.1 2388.8,936.4 2391.3,950.4 2395.3,972.7 2396.8,981.1 2399.3,982.0 2403.3,983.6 2404.8,984.2 2407.3,998.7 2408.8,1007.3 2411.3,1008.6 2415.3,1010.8 2419.3,1013.1 2423.3,1015.6 2427.3,1018.0 2431.3,1020.5 2435.3,1023.0 2439.3,1025.4 2443.3,1027.8 2444.8,1028.7 2447.3,1017.2 2451.3,998.3 2452.8,990.9 2455.3,1005.2 2456.8,1014.4 2459.3,1015.7 2463.3,1017.9 2467.3,1020.2 2468.8,1021.0 2471.3,1009.6 2475.3,990.6 2476.8,983.2 2479.2,998.1 2480.6,1006.7 2483.2,995.1 2484.8,988.1 2487.2,989.6 2491.2,992.2 2495.2,994.8 2499.2,997.5 2503.2,1000.2 2504.6,1001.2 2507.2,1017.5 2508.4,1025.1 2511.2,1027.1 2515.2,1030.0 2516.4,1030.9 2519.2,1018.3 2520.4,1012.7 2523.2,1014.8 2524.2,1015.6 2527.2,1002.9 2528.4,997.6 2531.2,999.8 2532.6,1000.9 2535.2,1017.1 2536.4,1025.1 2539.2,1027.2 2540.4,1028.2 2543.2,1016.5 2544.6,1010.4 2547.2,1012.4 2551.2,1015.7 2555.2,1019.0 2556.8,1020.4 2559.2,1034.1 2561.1,1045.3 2563.2,1047.1 2567.2,1050.6 2571.1,1054.2 2573.1,1055.9 2575.1,1047.2 2577.3,1038.4 2579.1,1040.0 2583.1,1043.4 2584.6,1044.7 2587.1,1033.7 2591.1,1016.0 2595.1,998.2 2596.8,990.4 2599.1,992.0 2603.1,994.6 2607.1,997.2 2608.8,998.4 2611.1,1014.0 2612.2,1021.7 2615.1,1023.5 2619.1,1026.1 2623.1,1028.7 2623.3,1028.8 2627.1,1012.1 2627.5,1010.4 2631.1,1029.8 2631.9,1034.6 2635.1,1036.7 2635.9,1037.3 2639.1,1021.3 2639.6,1018.7 2643.1,1039.3 2647.1,1062.9 2647.7,1067.0 2651.1,1069.4 2655.0,1072.3 2655.6,1072.7 2659.0,1059.0 2660.1,1054.7 2663.0,1057.0 2664.3,1058.0"/>
<polyline fill="none" stroke="#0000cc" stroke-width="3.9" stroke-linejoin="round" stroke-linecap="round" points="141.2,928.8 145.2,930.4 149.2,931.8 153.2,933.2 157.2,934.5 161.2,935.5 165.2,936.5 169.2,937.3 173.2,938.1 177.2,938.9 181.2,939.7 185.2,940.4 189.2,941.1 193.2,941.8 197.2,942.4 201.2,942.9 205.2,943.4 209.2,943.8 213.2,944.2 217.2,944.4 221.2,944.5 225.2,944.4 229.2,944.2 233.2,943.8 237.2,943.4 241.2,943.0 245.2,942.6 249.2,942.3 253.2,942.0 257.2,941.8 261.2,941.6 265.2,941.5 269.2,941.3 273.2,941.2 277.2,941.2 281.2,941.2 285.2,941.4 289.2,941.6 293.2,942.0 297.2,942.6 301.2,943.5 305.2,944.5 309.2,945.7 313.2,947.1 317.2,948.7 321.2,950.4 325.2,952.3 329.2,954.3 333.2,956.4 337.2,958.5 341.2,960.5 345.2,962.6 349.2,964.5 353.2,966.5 357.2,968.3 361.2,970.1 365.2,971.9 369.2,973.7 373.2,975.6 377.2,977.5 381.2,979.3 385.2,981.1 389.2,982.9 393.2,984.5 397.2,985.9 401.2,987.2 405.2,988.3 409.2,989.3 413.2,990.1 417.2,990.9 421.2,991.5 425.2,992.2 429.2,992.9 433.2,993.7 437.2,994.4 441.2,995.2 445.2,996.0 449.2,996.7 453.2,997.5 457.2,998.2 461.2,999.0 465.2,999.7 469.2,1000.5 473.2,1001.2 477.2,1001.9 481.2,1002.6 485.2,1003.3 489.2,1003.8 493.2,1004.3 497.2,1004.8 501.2,1005.2 505.2,1005.6 509.2,1006.2 513.2,1006.8 517.2,1007.4 521.2,1008.2 525.2,1008.9 529.2,1009.7 533.2,1010.4 537.2,1011.0 541.2,1011.5 545.2,1011.9 549.2,1012.1 553.2,1012.2 557.2,1012.3 561.2,1012.4 565.2,1012.6 569.2,1012.8 573.2,1013.1 577.2,1013.4 581.2,1013.7 585.2,1014.1 589.2,1014.6 593.2,1015.2 597.2,1015.8 601.2,1016.5 605.2,1017.2 609.2,1018.0 613.2,1018.8 617.2,1019.6 621.2,1020.5 625.2,1021.4 629.2,1022.2 633.2,1023.1 637.2,1023.9 641.2,1024.8 645.2,1025.6 649.2,1026.4 653.2,1027.2 657.2,1028.0 661.2,1028.8 665.2,1029.5 669.2,1030.2 673.2,1030.7 677.2,1031.2 681.2,1031.5 685.2,1031.7 689.2,1031.8 693.2,1031.7 697.2,1031.4 701.2,1030.9 705.2,1030.1 709.2,1029.1 713.2,1027.9 717.2,1026.5 721.2,1024.8 725.2,1023.0 729.2,1020.9 733.2,1018.6 737.2,1016.2 741.2,1013.7 745.2,1011.1 749.2,1008.5 753.2,1005.9 757.2,1003.1 761.2,1000.3 765.2,997.3 769.2,994.3 773.2,991.3 777.2,988.3 781.2,985.4 785.2,982.7 789.2,980.1 793.2,977.6 797.2,975.2 801.2,973.0 805.2,970.7 809.2,968.6 813.2,966.5 817.2,964.4 821.2,962.2 825.2,959.9 829.2,957.4 833.2,954.9 837.2,952.4 841.2,950.0 845.2,947.6 849.2,945.4 853.2,943.3 857.2,941.1 861.2,938.8 865.2,936.4 869.2,934.0 873.2,931.5 877.2,929.0 881.2,926.6 885.2,924.3 889.2,922.1 893.2,919.9 897.2,917.7 901.2,915.4 905.2,913.2 909.2,910.8 913.2,908.3 917.2,905.6 921.2,902.8 925.2,899.9 929.2,896.9 933.2,894.1 937.2,891.4 941.2,888.8 945.2,886.5 949.2,884.3 953.2,882.1 957.2,880.0 961.2,877.8 965.2,875.5 969.2,873.2 973.2,870.9 977.2,868.7 981.2,866.6 985.2,864.6 989.2,862.6 993.2,860.7 997.2,858.8 1001.2,856.8 1005.2,854.9 1009.2,852.9 1013.2,850.9 1017.2,848.9 1021.2,846.9 1025.2,845.0 1029.2,843.2 1033.2,841.4 1037.2,839.8 1041.2,838.1 1045.2,836.4 1049.2,834.6 1053.2,832.7 1057.2,830.7 1061.2,828.8 1065.2,827.0 1069.2,825.4 1073.2,823.9 1077.2,822.6 1081.2,821.5 1085.2,820.6 1089.2,819.8 1093.2,819.3 1097.2,818.9 1101.2,818.6 1105.2,818.5 1109.2,818.4 1113.2,818.4 1117.2,818.6 1121.2,818.9 1125.2,819.3 1129.2,819.9 1133.2,820.7 1137.2,821.6 1141.2,822.7 1145.2,823.8 1149.2,825.0 1153.2,826.2 1157.2,827.5 1161.2,828.9 1165.2,830.4 1169.2,831.9 1173.2,833.4 1177.2,834.7 1181.2,836.0 1185.2,837.1 1189.2,838.2 1193.2,839.3 1197.2,840.5 1201.2,841.8 1205.2,843.2 1209.2,844.7 1213.2,846.3 1217.2,847.9 1221.2,849.6 1225.2,851.3 1229.2,853.1 1233.2,854.9 1237.2,856.7 1241.2,858.4 1245.2,860.1 1249.2,861.7 1253.2,863.1 1257.2,864.6 1261.2,866.0 1265.2,867.5 1269.2,869.0 1273.2,870.5 1277.2,871.9 1281.2,873.2 1285.2,874.4 1289.2,875.6 1293.2,876.7 1297.2,877.8 1301.2,879.0 1305.2,880.1 1309.2,881.3 1313.2,882.5 1317.2,883.7 1321.2,884.9 1325.2,886.2 1329.2,887.4 1333.2,888.5 1337.2,889.7 1341.2,890.8 1345.2,891.8 1349.2,892.9 1353.2,893.9 1357.2,895.0 1361.2,896.1 1365.2,897.3 1369.2,898.5 1373.2,899.7 1377.2,900.9 1381.2,902.1 1385.2,903.2 1389.2,904.3 1393.2,905.3 1397.2,906.3 1401.2,907.4 1405.2,908.4 1409.2,909.6 1413.2,910.7 1417.2,911.9 1421.2,913.1 1425.2,914.2 1429.2,915.3 1433.2,916.4 1437.2,917.4 1441.2,918.4 1445.2,919.4 1449.2,920.4 1453.2,921.4 1457.2,922.4 1461.2,923.2 1465.2,923.9 1469.2,924.5 1473.2,925.0 1477.2,925.3 1481.2,925.5 1485.2,925.5 1489.2,925.5 1493.2,925.4 1497.2,925.2 1501.2,924.9 1505.2,924.7 1509.2,924.4 1513.2,924.1 1517.2,923.8 1521.2,923.4 1525.2,922.9 1529.2,922.4 1533.2,921.7 1537.2,921.0 1541.2,920.2 1545.2,919.4 1549.2,918.6 1553.2,917.7 1557.2,916.8 1561.2,915.9 1565.2,914.9 1569.2,913.8 1573.2,912.7 1577.2,911.6 1581.2,910.5 1585.2,909.3 1589.2,908.2 1593.2,907.1 1597.2,906.0 1601.2,904.7 1605.2,903.5 1609.2,902.1 1613.2,900.8 1617.2,899.4 1621.2,898.0 1625.2,896.7 1629.2,895.2 1633.2,893.7 1637.2,892.1 1641.2,890.4 1645.2,888.7 1649.2,887.0 1653.2,885.4 1657.2,883.9 1661.2,882.5 1665.2,881.1 1669.2,879.7 1673.2,878.3 1677.2,876.9 1681.2,875.5 1685.2,874.3 1689.2,873.0 1693.2,871.8 1697.2,870.6 1701.2,869.3 1705.2,868.1 1709.2,866.8 1713.2,865.4 1717.2,864.0 1721.2,862.6 1725.2,861.1 1729.2,859.6 1733.2,858.1 1737.2,856.6 1741.2,855.1 1745.2,853.6 1749.2,852.2 1753.2,850.9 1757.2,849.5 1761.2,848.3 1765.2,847.1 1769.2,845.9 1773.2,844.7 1777.2,843.6 1781.2,842.5 1785.2,841.4 1789.2,840.4 1793.2,839.4 1797.2,838.4 1801.2,837.3 1805.2,836.2 1809.2,834.9 1813.2,833.7 1817.2,832.4 1821.2,831.2 1825.2,830.1 1829.2,829.2 1833.2,828.4 1837.2,827.7 1841.2,827.0 1845.2,826.4 1849.2,825.8 1853.2,825.1 1857.2,824.6 1861.2,824.2 1865.2,823.9 1869.2,823.7 1873.2,823.6 1877.2,823.5 1881.2,823.5 1885.2,823.6 1889.2,823.6 1893.2,823.7 1897.2,823.9 1901.2,824.0 1905.2,824.3 1909.2,824.6 1913.2,824.9 1917.2,825.3 1921.2,825.6 1925.2,826.0 1929.2,826.4 1933.2,826.8 1937.2,827.1 1941.2,827.5 1945.2,828.0 1949.2,828.5 1953.2,829.1 1957.2,829.7 1961.2,830.4 1965.2,831.2 1969.2,832.0 1973.2,832.8 1977.2,833.5 1981.2,834.3 1985.2,835.1 1989.2,836.0 1993.2,837.0 1997.2,838.2 2001.2,839.5 2005.2,841.0 2009.2,842.7 2013.2,844.5 2017.2,846.4 2021.2,848.4 2025.2,850.4 2029.2,852.6 2033.2,854.9 2037.2,857.3 2041.2,859.7 2045.2,862.2 2049.2,864.7 2053.2,867.1 2057.2,869.4 2061.2,871.8 2065.2,874.1 2069.2,876.5 2073.2,878.8 2077.2,881.2 2081.2,883.5 2085.2,885.7 2089.2,887.9 2093.2,890.0 2097.2,892.1 2101.2,894.2 2105.2,896.4 2109.2,898.8 2113.2,901.3 2117.2,904.0 2121.2,906.8 2125.2,909.6 2129.2,912.2 2133.2,914.8 2137.2,917.2 2141.2,919.6 2145.2,921.9 2149.2,924.1 2153.2,926.3 2157.2,928.5 2161.2,930.6 2165.2,932.8 2169.2,934.9 2173.2,937.0 2177.2,939.0 2181.2,941.1 2185.2,943.1 2189.2,945.0 2193.2,946.8 2197.2,948.5 2201.2,950.2 2205.2,951.8 2209.2,953.5 2213.2,955.1 2217.2,956.8 2221.2,958.5 2225.2,960.3 2229.2,962.1 2233.2,963.8 2237.2,965.6 2241.2,967.4 2245.2,969.2 2249.2,971.0 2253.2,972.9 2257.2,974.7 2261.2,976.5 2265.2,978.2 2269.2,979.9 2273.2,981.6 2277.2,983.3 2281.2,985.1 2285.2,987.0 2289.2,988.9 2293.2,990.8 2297.2,992.8 2301.2,994.7 2305.2,996.6 2309.2,998.6 2313.2,1000.6 2317.2,1002.6 2321.2,1004.7 2325.2,1006.8 2329.2,1008.9 2333.2,1011.0 2337.2,1013.2 2341.2,1015.4 2345.2,1017.6 2349.2,1019.8 2353.2,1022.1 2357.2,1024.3 2361.2,1026.6 2365.2,1028.8 2369.2,1031.0 2373.2,1033.2 2377.2,1035.1 2381.2,1037.0 2385.2,1038.7 2389.2,1040.2 2393.2,1041.5 2397.2,1042.6 2401.2,1043.6 2405.2,1044.4 2409.2,1045.1 2413.2,1045.6 2417.2,1046.0 2421.2,1046.3 2425.2,1046.6 2429.2,1046.8 2433.2,1047.0 2437.2,1047.2 2441.2,1047.4 2445.2,1047.6 2449.2,1047.7 2453.2,1047.9 2457.2,1047.9 2461.2,1048.0 2465.2,1047.9 2469.2,1047.9 2473.2,1047.7 2477.2,1047.6 2481.2,1047.4 2485.2,1047.2 2489.2,1047.0 2493.2,1046.8 2497.2,1046.5 2501.2,1046.1 2505.2,1045.6 2509.2,1044.9 2513.2,1044.1 2517.2,1043.2 2521.2,1042.2 2525.2,1041.2 2529.2,1040.2 2533.2,1039.2 2537.2,1038.1 2541.2,1037.0 2545.2,1035.7 2549.2,1034.3 2553.2,1032.8 2557.2,1031.1 2561.2,1029.3 2565.2,1027.3 2569.2,1025.3 2573.2,1023.2 2577.2,1021.1 2581.2,1018.9 2585.2,1016.6 2589.2,1014.3 2593.2,1012.1 2597.2,1010.0 2601.2,1007.8 2605.2,1005.6 2609.2,1003.4 2613.2,1001.0 2617.2,998.6 2621.2,996.3 2625.2,993.9 2629.2,991.7 2633.2,989.4 2637.2,987.0 2641.2,984.5 2645.2,981.9 2649.2,979.3 2653.2,976.6 2657.2,974.0 2661.2,971.5 2664.5,969.2"/>
<rect x="137" y="51" width="567" height="323.7" fill="#ffc000"/>
<text y="135.8" font-size="70.4" fill="#0000cc" xml:space="preserve"><tspan x="149.40" textLength="123.40" lengthAdjust="spacingAndGlyphs">MN</tspan> <tspan x="293.40" textLength="40.60" lengthAdjust="spacingAndGlyphs">2</tspan> <tspan x="355.40" textLength="102.60" lengthAdjust="spacingAndGlyphs">đài</tspan> <tspan x="477.40" textLength="206.40" lengthAdjust="spacingAndGlyphs">chánh</tspan></text>
<text x="420" y="317" font-size="153" font-weight="bold" fill="#f00" text-anchor="middle">67</text>
<g font-size="29" fill="#5c5c5c" text-anchor="end"><text x="107.6" y="1132.6">0</text><text x="107.6" y="1026.5">0.05</text><text x="107.6" y="920.5">0.1</text><text x="107.6" y="814.4">0.15</text><text x="107.6" y="708.4">0.2</text><text x="107.6" y="602.3">0.25</text><text x="107.6" y="496.2">0.3</text><text x="107.6" y="390.2">0.35</text><text x="107.6" y="284.1">0.4</text><text x="107.6" y="178.1">0.45</text><text x="107.6" y="72.0">0.5</text></g>
<ellipse cx="200.35" cy="537.8" rx="84.8" ry="73.7" fill="none" stroke="#f00" stroke-width="9.8"/>
<ellipse cx="190.45" cy="924.1" rx="84.8" ry="73.9" fill="none" stroke="#f00" stroke-width="9.8"/>
</svg></body></html>
